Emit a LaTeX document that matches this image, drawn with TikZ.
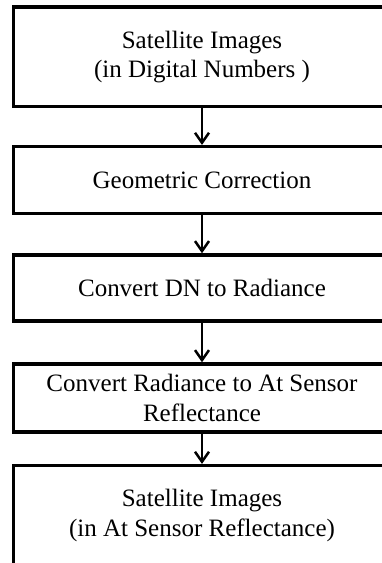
\documentclass[tikz,border=0pt]{standalone}
\usepackage{fontspec}
\setmainfont{Liberation Serif}
\usetikzlibrary{arrows.meta}
\begin{document}
\begin{tikzpicture}[x=1pt,y=1pt,
  stepbox/.style={draw=black,line width=3.5pt,minimum width=377pt,inner sep=0pt,align=center,
    font=\fontsize{25}{29.5}\selectfont},
  flow/.style={line width=2.2pt,-{Straight Barb[length=10pt,width=14pt,line width=2.5pt]}}]
\clip (0,0) rectangle (382,-563);
\useasboundingbox (0,0) rectangle (382,-563);
\node[stepbox,minimum height=99.7pt] (b1) at (202,-56.8) {Satellite Images\\(in Digital Numbers )};
\node[stepbox,minimum height=66.6pt] (b2) at (202,-180) {Geometric Correction};
\node[stepbox,minimum height=66pt] (b3) at (202,-288) {Convert DN to Radiance};
\node[stepbox,minimum height=67.7pt] (b4) at (202,-397.9) {Convert Radiance to At Sensor\\Reflectance};
\node[stepbox,minimum height=99.3pt] (b5) at (202,-515.3) {Satellite Images\\(in At Sensor Reflectance)};
\draw[flow] (b1.south) -- (b2.north);
\draw[flow] (b2.south) -- (b3.north);
\draw[flow] (b3.south) -- (b4.north);
\draw[flow] (b4.south) -- (b5.north);
\end{tikzpicture}
\end{document}
